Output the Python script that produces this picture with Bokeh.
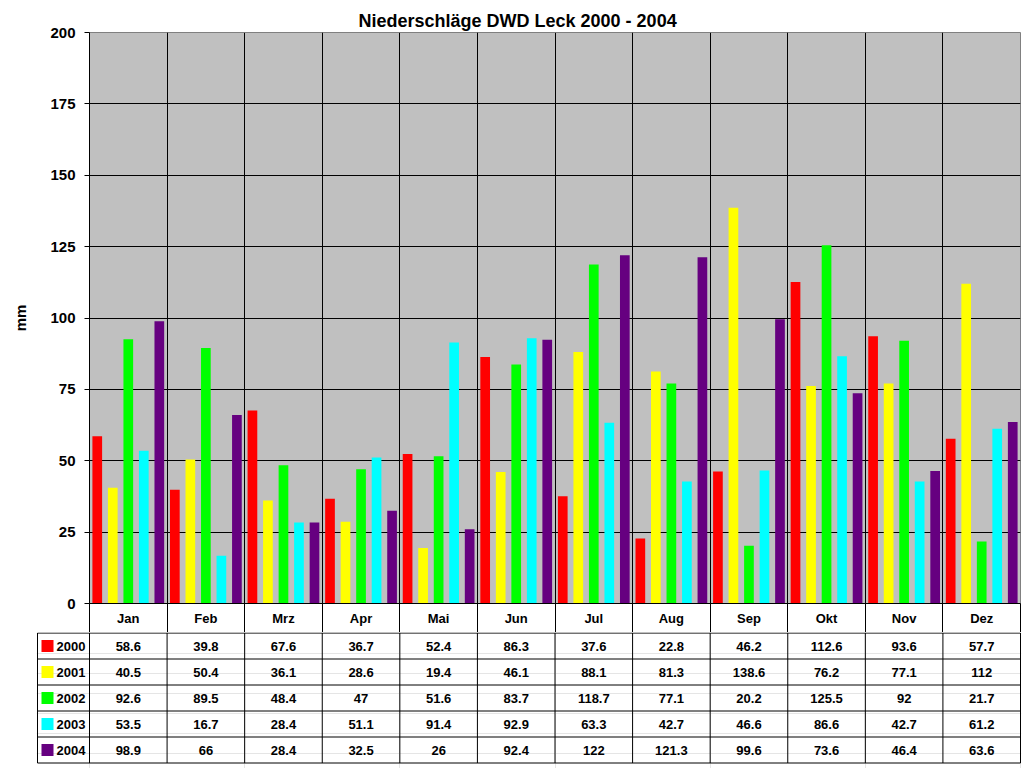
from bokeh.plotting import figure
from bokeh.models import Range1d, FixedTicker, Grid, LinearAxis
from bokeh.layouts import column
from bokeh.core.properties import value
from bokeh.embed import file_html
from bokeh.resources import INLINE

# ---------------- data ----------------
title_text = "Niederschläge DWD Leck 2000 - 2004"
y_label = "mm"
months = ["Jan", "Feb", "Mrz", "Apr", "Mai", "Jun", "Jul", "Aug", "Sep", "Okt", "Nov", "Dez"]
years = ["2000", "2001", "2002", "2003", "2004"]
r2000 = [58.6, 39.8, 67.6, 36.7, 52.4, 86.3, 37.6, 22.8, 46.2, 112.6, 93.6, 57.7]
r2001 = [40.5, 50.4, 36.1, 28.6, 19.4, 46.1, 88.1, 81.3, 138.6, 76.2, 77.1, 112]
r2002 = [92.6, 89.5, 48.4, 47, 51.6, 83.7, 118.7, 77.1, 20.2, 125.5, 92, 21.7]
r2003 = [53.5, 16.7, 28.4, 51.1, 91.4, 92.9, 63.3, 42.7, 46.6, 86.6, 42.7, 61.2]
r2004 = [98.9, 66, 28.4, 32.5, 26, 92.4, 122, 121.3, 99.6, 73.6, 46.4, 63.6]
series = [r2000, r2001, r2002, r2003, r2004]
colors = ["#FF0000", "#FFFF00", "#00FF00", "#00FFFF", "#660080"]
y_ticks = [0, 25, 50, 75, 100, 125, 150, 175, 200]

# ---------------- layout constants ----------------
FONT = "Liberation Sans"
W = 1022
FRAME_L = 89
FRAME_R = 2
FRAME_T = 32
HEAD_H = 29            # month header row, drawn as the main figure's x axis
MAIN_H = 603 + HEAD_H
TAB_H = 768 - MAIN_H
PX = (W - FRAME_L - FRAME_R) / 12.0  # pixels per category
LEG_W = 52  # legend column width (px)

n_cat = len(months)
n_ser = len(series)
slot = 1.0 / n_ser
bar_w = 0.125

# ---------------- main chart ----------------
p = figure(width=W, height=MAIN_H,
           x_range=Range1d(0, n_cat), y_range=Range1d(0, 200),
           output_backend="svg", toolbar_location=None,
           x_axis_location=None,
           min_border_left=FRAME_L, min_border_right=FRAME_R,
           min_border_top=FRAME_T, min_border_bottom=HEAD_H)
p.frame_align = False
p.background_fill_color = "#C0C0C0"
p.border_fill_color = "white"
p.outline_line_color = "#808080"

for i, (vals, col) in enumerate(zip(series, colors)):
    xs = [m + slot * (i + 0.5) for m in range(n_cat)]
    p.vbar(x=xs, top=vals, width=bar_w, fill_color=col, line_color=None)

p.yaxis.ticker = FixedTicker(ticks=y_ticks)
p.yaxis.axis_label = y_label
p.yaxis.axis_label_text_font = FONT
p.yaxis.axis_label_text_font_style = "bold"
p.yaxis.axis_label_text_font_size = "15px"
p.yaxis.axis_label_text_color = "black"
p.yaxis.axis_label_standoff = 18
p.yaxis.major_label_text_font = FONT
p.yaxis.major_label_text_font_style = "bold"
p.yaxis.major_label_text_font_size = "15px"
p.yaxis.major_label_standoff = 9
p.yaxis.major_tick_out = 5
p.yaxis.major_tick_in = 0
p.yaxis.minor_tick_out = 0
p.yaxis.minor_tick_in = 0
p.yaxis.axis_line_color = "black"
p.yaxis.major_tick_line_color = "black"
p.yaxis.major_label_text_color = "black"

# x axis = the table header: month names, minor ticks are the column borders
centers = [m + 0.5 for m in range(n_cat)]
xax = LinearAxis(ticker=FixedTicker(ticks=centers, minor_ticks=list(range(n_cat + 1))),
                 major_tick_out=0, major_tick_in=0,
                 minor_tick_out=HEAD_H + 1, minor_tick_in=0,
                 minor_tick_line_color="black", minor_tick_line_width=1,
                 major_label_overrides={c: mname for c, mname in zip(centers, months)},
                 major_label_text_font=FONT, major_label_text_font_style="bold",
                 major_label_text_font_size="13px", major_label_text_color="black",
                 major_label_standoff=-(HEAD_H + 1) + 7,
                 axis_line_color="black")
p.add_layout(xax, "below")

p.ygrid.ticker = FixedTicker(ticks=y_ticks[1:-1])
p.ygrid.grid_line_color = "black"
p.ygrid.grid_line_width = 1
vgrid = Grid(dimension=0, ticker=FixedTicker(ticks=list(range(1, n_cat))),
             grid_line_color="black", grid_line_width=1)
p.add_layout(vgrid, "center")

p.title.text = title_text
p.title.text_font = FONT
p.title.text_font_style = "bold"
p.title.text_font_size = "18px"
p.title.text_color = "black"
p.title.align = "left"
p.title.offset = 269
p.title.standoff = 3

# ---------------- data table ----------------
left_units = (LEG_W + 1) / PX
t = figure(width=W, height=TAB_H,
           x_range=Range1d(-left_units, n_cat + 1 / PX),
           y_range=Range1d(TAB_H - 0.5, -0.5),
           output_backend="svg", toolbar_location=None,
           x_axis_location=None, y_axis_location=None,
           min_border_left=FRAME_L - LEG_W - 1, min_border_right=FRAME_R - 1,
           min_border_top=0, min_border_bottom=0)
t.frame_align = False
t.outline_line_color = None
t.background_fill_color = "white"
t.border_fill_color = "white"

row_h = 26
row_lines = [k * row_h for k in range(n_ser + 1)]
bottom = row_lines[-1]
leg_x = -LEG_W / PX

# horizontal lines
hx0 = [leg_x] * len(row_lines)
hx1 = [n_cat] * len(row_lines)
t.segment(x0=hx0, y0=row_lines, x1=hx1, y1=row_lines, line_color="black", line_width=1)
# vertical lines
vx = list(range(n_cat + 1)) + [leg_x]
vy0 = [0] * (n_cat + 2)
vy1 = [bottom] * (n_cat + 2)
t.segment(x0=vx, y0=vy0, x1=vx, y1=vy1, line_color="black", line_width=1)

# values
tx, ty, tt = [], [], []
for i, vals in enumerate(series):
    yc = row_lines[0] + row_h * (i + 0.5)
    for m, v in enumerate(vals):
        tx.append(m + 0.5)
        ty.append(yc)
        tt.append(f"{v:g}")
t.text(x=tx, y=ty, text=tt,
       text_font=value(FONT), text_font_style="bold", text_font_size="13px",
       text_align="center", text_baseline="middle", text_color="black")

# legend keys in table
row_c = [row_lines[0] + row_h * (i + 0.5) for i in range(n_ser)]
t.scatter(x=[leg_x + 10 / PX] * n_ser, y=row_c, marker="square", size=12,
          fill_color=colors, line_color=None)
t.text(x=[leg_x + 19 / PX] * n_ser, y=row_c, text=years,
       text_font=value(FONT), text_font_style="bold", text_font_size="13px",
       text_align="left", text_baseline="middle", text_color="black")

layout = column(p, t)
open("out.html", "w").write(file_html(layout, INLINE))
